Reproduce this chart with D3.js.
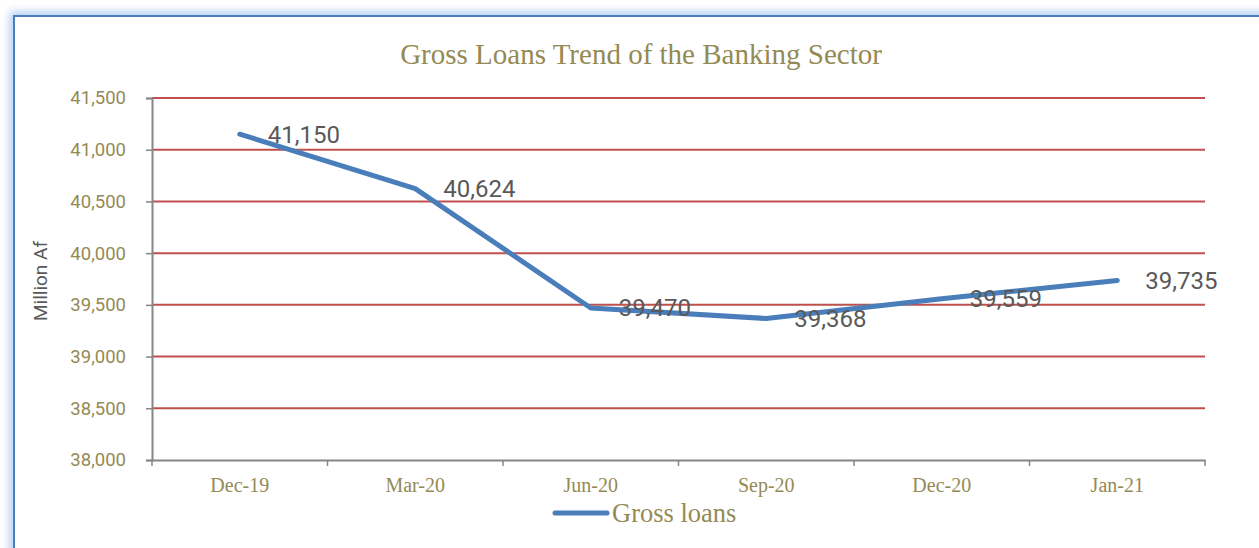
<!DOCTYPE html>
<html>
<head>
<meta charset="utf-8">
<script src="https://cdn.jsdelivr.net/npm/d3@7"></script>
<style>
  body { margin: 0; background: #fff; }
  svg { display: block; }
</style>
</head>
<body>
<div id="chart"></div>
<script>
const categories = ['Dec-19', 'Mar-20', 'Jun-20', 'Sep-20', 'Dec-20', 'Jan-21'];
const grossLoans = [41150, 40624, 39470, 39368, 39559, 39735];
const yTicks = [38000, 38500, 39000, 39500, 40000, 40500, 41000, 41500];

const width = 1259, height = 548;
const margin = { top: 98, right: 54, bottom: 88, left: 152 };

const svg = d3.select('#chart').append('svg')
  .attr('width', width)
  .attr('height', height);

// frame with soft glow
const defs = svg.append('defs');
defs.append('filter').attr('id', 'glow')
  .attr('x', '-5%').attr('y', '-5%').attr('width', '110%').attr('height', '110%')
  .append('feGaussianBlur').attr('stdDeviation', 4);

svg.append('rect')
  .attr('x', 14).attr('y', 16)
  .attr('width', width + 20).attr('height', height + 20)
  .attr('fill', 'none')
  .attr('stroke', '#a9c8f0')
  .attr('stroke-width', 8)
  .attr('filter', 'url(#glow)');
svg.append('rect')
  .attr('x', 14).attr('y', 16)
  .attr('width', width + 20).attr('height', height + 20)
  .attr('fill', '#fff')
  .attr('stroke', '#4a7ebb')
  .attr('stroke-width', 2);

const x = d3.scaleBand()
  .domain(categories)
  .range([margin.left, width - margin.right]);

const y = d3.scaleLinear()
  .domain([38000, 41500])
  .range([height - margin.bottom, margin.top]);

// title
svg.append('text')
  .attr('x', 641).attr('y', 64)
  .attr('text-anchor', 'middle')
  .attr('font-family', '"Liberation Serif", "Times New Roman", serif')
  .attr('font-size', 29)
  .attr('fill', '#948a54')
  .text('Gross Loans Trend of the Banking Sector');

// gridlines
svg.append('g')
  .selectAll('line')
  .data(yTicks.filter(d => d > 38000))
  .join('line')
  .attr('x1', margin.left).attr('x2', width - margin.right)
  .attr('y1', d => y(d)).attr('y2', d => y(d))
  .attr('stroke', '#c0504d')
  .attr('stroke-width', 2);

// y axis
const yAxis = svg.append('g')
  .attr('transform', `translate(${margin.left},0)`)
  .call(d3.axisLeft(y).tickValues(yTicks).tickFormat(d3.format(',')).tickSize(6).tickPadding(20));
yAxis.select('.domain').attr('stroke', '#868686').attr('stroke-width', 2);
yAxis.selectAll('.tick line').attr('stroke', '#868686').attr('stroke-width', 1.5);
yAxis.selectAll('.tick text')
  .attr('font-family', 'Roboto, sans-serif')
  .attr('font-size', 18.5)
  .attr('fill', '#948a54');

// x axis
const xAxis = svg.append('g')
  .attr('transform', `translate(0,${height - margin.bottom})`)
  .call(d3.axisBottom(x).tickSize(0).tickPadding(18));
xAxis.select('.domain').attr('stroke', '#868686').attr('stroke-width', 2);
xAxis.selectAll('.tick text')
  .attr('font-family', '"Liberation Serif", "Times New Roman", serif')
  .attr('font-size', 20)
  .attr('fill', '#948a54');

// x tick marks at band edges
const edges = categories.map(c => x(c)).concat([x.range()[1]]);
xAxis.selectAll('.edge')
  .data(edges)
  .join('line')
  .attr('class', 'edge')
  .attr('x1', d => d).attr('x2', d => d)
  .attr('y1', 0).attr('y2', 6)
  .attr('stroke', '#868686')
  .attr('stroke-width', 1.5);

// y axis title
svg.append('text')
  .attr('transform', `translate(47,281) rotate(-90)`)
  .attr('text-anchor', 'middle')
  .attr('font-family', 'Roboto, sans-serif')
  .attr('font-size', 19)
  .attr('fill', '#595959')
  .text('Million Af');

// line
const cx = d => x(d) + x.bandwidth() / 2;
const line = d3.line()
  .x((d, i) => cx(categories[i]))
  .y(d => y(d));

svg.append('path')
  .datum(grossLoans)
  .attr('d', line)
  .attr('fill', 'none')
  .attr('stroke', '#4a7ebb')
  .attr('stroke-width', 5)
  .attr('stroke-linejoin', 'round')
  .attr('stroke-linecap', 'round');

// data labels
svg.append('g')
  .selectAll('text')
  .data(grossLoans)
  .join('text')
  .attr('x', (d, i) => cx(categories[i]) + 28)
  .attr('y', d => y(d) + 2)
  .attr('dominant-baseline', 'middle')
  .attr('font-family', 'Roboto, sans-serif')
  .attr('font-size', 24)
  .attr('fill', '#595959')
  .text(d => d3.format(',')(d));

// legend
const legend = svg.append('g').attr('transform', 'translate(555,513)');
legend.append('line')
  .attr('x1', 0).attr('x2', 52)
  .attr('stroke', '#4a7ebb')
  .attr('stroke-width', 5)
  .attr('stroke-linecap', 'round');
legend.append('text')
  .attr('x', 57).attr('y', 9)
  .attr('font-family', '"Liberation Serif", "Times New Roman", serif')
  .attr('font-size', 26.5)
  .attr('fill', '#948a54')
  .text('Gross loans');
</script>
</body>
</html>
